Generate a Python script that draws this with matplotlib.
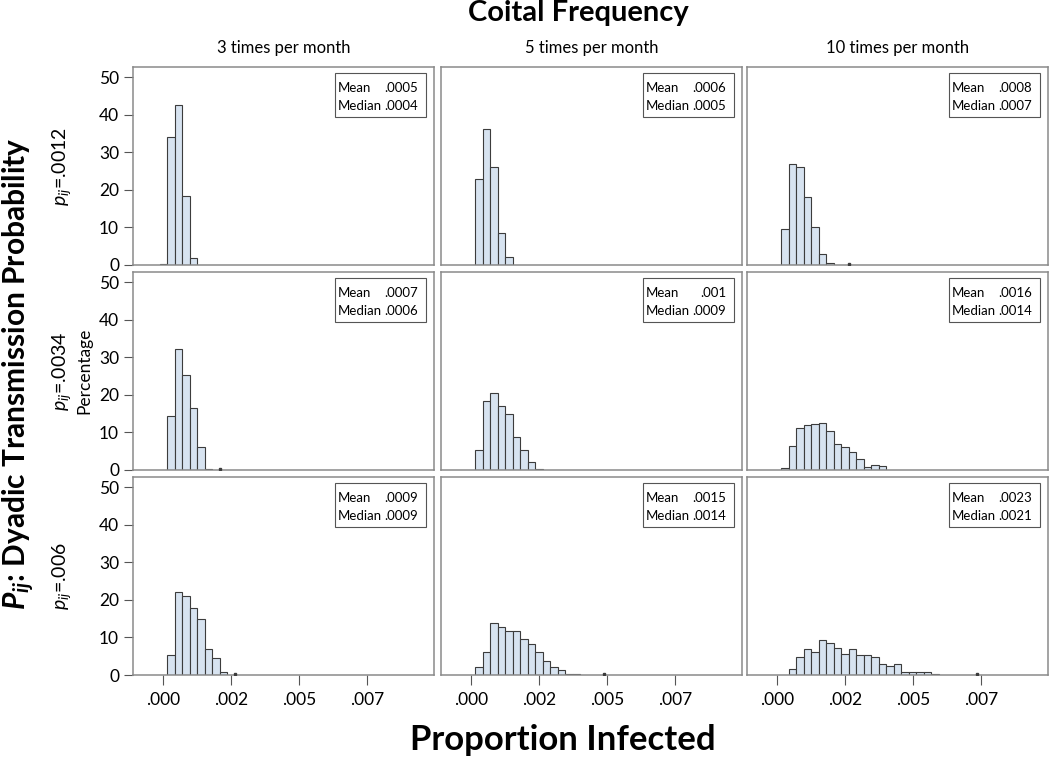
import matplotlib
matplotlib.use('Agg')
import matplotlib.pyplot as plt
from matplotlib.patches import Rectangle
import numpy as np

# --- FONT SETTINGS ---
plt.rcParams['font.family'] = ['Lato', 'DejaVu Sans']
plt.rcParams['mathtext.fontset'] = 'custom'
plt.rcParams['mathtext.rm'] = 'Lato'
plt.rcParams['mathtext.it'] = 'Lato:italic'
plt.rcParams['mathtext.bf'] = 'Lato:bold'
plt.rcParams['mathtext.bfit'] = 'Lato:italic:bold'

# --- DATA ---
col_titles = ['3 times per month', '5 times per month', '10 times per month']
row_probs = ['.0012', '.0034', '.006']

means = [['.0005', '.0006', '.0008'],
         ['.0007', '.001', '.0016'],
         ['.0009', '.0015', '.0023']]
medians = [['.0004', '.0005', '.0007'],
           ['.0006', '.0009', '.0014'],
           ['.0009', '.0014', '.0021']]

bin_start = 0.00015
bin_width = 0.000276

# index of first bin in each panel (rows = p_ij, cols = frequency)
first_bin = [[-1, 0, 0],
             [0, 0, 0],
             [0, 0, 1]]

# percentage per bin
heights = [
    [[0.3, 34.0, 42.5, 18.3, 1.8],
     [23.0, 36.3, 26.2, 8.5, 2.0],
     [9.6, 26.8, 26.2, 18.2, 10.2, 2.9, 0.4]],
    [[14.5, 32.2, 25.3, 16.4, 6.2, 0.3],
     [5.4, 18.4, 20.4, 17.0, 14.8, 8.8, 5.4, 2.2, 0.3],
     [0.5, 6.5, 11.3, 11.9, 12.2, 12.6, 10.4, 7.0, 6.2, 4.7, 3.0, 0.9, 1.3, 1.0]],
    [[5.2, 22.2, 21.1, 17.8, 15.0, 6.9, 4.6, 0.9],
     [2.0, 6.1, 13.8, 12.7, 11.6, 11.6, 9.6, 8.2, 6.1, 3.7, 2.0, 1.4, 0.3, 0.3],
     [1.7, 4.8, 7.0, 6.1, 9.3, 8.4, 7.3, 5.7, 7.0, 5.4, 5.4, 4.8, 2.8, 2.5, 2.9,
      0.9, 0.9, 0.9, 0.9, 0.3]],
]

# single extreme runs, shown as specks on the baseline
outliers = [[None, None, 0.00263],
            [0.0021, None, None],
            [0.00266, 0.00489, 0.00733]]

xticks = [0.0, 0.0025, 0.005, 0.0075]
xticklabels = ['.000', '.002', '.005', '.007']
yticks = [0, 10, 20, 30, 40, 50]

# --- LAYOUT ---
W, H = 1050, 760
fig = plt.figure(figsize=(W / 100, H / 100), dpi=100)

col_x = [133, 441, 747]
row_y = [67, 272, 477]
pw, ph = 301, 198

bar_fc = '#d7e3f0'
bar_ec = '#3c3c3c'
frame_c = '#8a8a8a'

for r in range(3):
    for c in range(3):
        ax = fig.add_axes([col_x[c] / W, 1 - (row_y[r] + ph) / H, pw / W, ph / H])
        h = np.array(heights[r][c])
        idx = first_bin[r][c] + np.arange(len(h))
        lefts = bin_start + idx * bin_width
        ax.bar(lefts, h, width=bin_width, align='edge', color=bar_fc,
               edgecolor=bar_ec, linewidth=0.8, zorder=2)
        if outliers[r][c] is not None:
            ax.plot([outliers[r][c]], [0.35], marker='s', ms=1.6,
                    color=bar_ec, ls='none', zorder=3)

        ax.set_xlim(-0.0011, 0.00995)
        ax.set_ylim(0, 52.7)
        for s in ax.spines.values():
            s.set_color(frame_c)
            s.set_linewidth(1.1)

        if c == 0:
            ax.set_yticks(yticks)
            ax.tick_params(axis='y', direction='out', length=6.5, width=0.8,
                           color='#555555', labelsize=12.5, pad=3.5)
        else:
            ax.set_yticks([])
        if r == 2:
            ax.set_xticks(xticks)
            ax.set_xticklabels(xticklabels)
            ax.tick_params(axis='x', direction='out', length=7, width=0.8,
                           color='#555555', labelsize=12.5, pad=5)
        else:
            ax.set_xticks([])

        # mean / median box
        ax.add_patch(Rectangle((0.671, 0.745), 0.301, 0.223, transform=ax.transAxes,
                               facecolor='white', edgecolor='#555555', lw=0.8, zorder=4))
        ax.text(0.68, 0.892, 'Mean', transform=ax.transAxes, fontsize=9.5,
                va='center', ha='left', zorder=5)
        ax.text(0.948, 0.892, means[r][c], transform=ax.transAxes, fontsize=9.5,
                va='center', ha='right', zorder=5)
        ax.text(0.68, 0.802, 'Median', transform=ax.transAxes, fontsize=9.5,
                va='center', ha='left', zorder=5)
        ax.text(0.948, 0.802, medians[r][c], transform=ax.transAxes, fontsize=9.5,
                va='center', ha='right', zorder=5)

        if r == 0:
            ax.set_title(col_titles[c], fontsize=12, pad=10)

# row labels
for r in range(3):
    yc = 1 - (row_y[r] + ph / 2) / H
    fig.text(62 / W, yc, r'$p_{ij}$=' + row_probs[r], rotation=90,
             ha='center', va='center', fontsize=14)
fig.text(84 / W, 1 - (row_y[1] + ph / 2) / H, 'Percentage', rotation=90,
         ha='center', va='center', fontsize=12.5)

# overall titles
fig.text(578 / W, 1 - 13 / H, 'Coital Frequency', ha='center', va='center',
         fontsize=21, fontweight='bold')
fig.text(563 / W, 1 - 740 / H, 'Proportion Infected', ha='center', va='center',
         fontsize=25, fontweight='bold')
fig.text(19 / W, 1 - 374 / H, r'$\mathbfit{P}_{\mathbfit{ij}}$: Dyadic Transmission Probability',
         rotation=90, ha='center', va='center', fontsize=21.5, fontweight='bold')

fig.savefig('out.png', dpi=100, facecolor='white')
